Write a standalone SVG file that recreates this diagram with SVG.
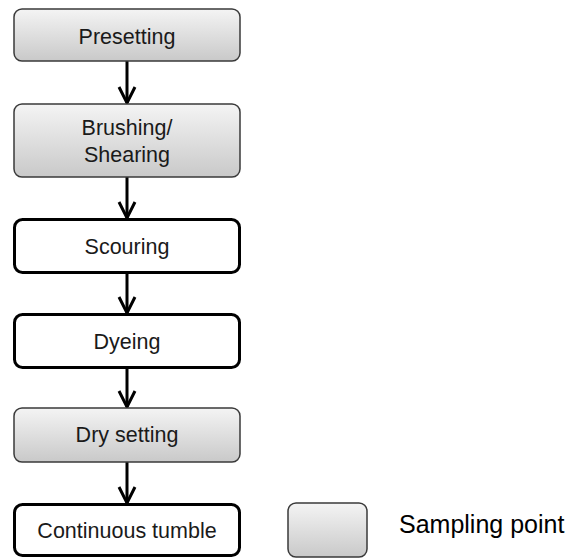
<svg xmlns="http://www.w3.org/2000/svg" width="575" height="558" viewBox="0 0 575 558">
  <defs>
    <linearGradient id="gray" x1="0" y1="0" x2="0" y2="1">
      <stop offset="0" stop-color="#f4f4f4"/>
      <stop offset="1" stop-color="#c9c9c9"/>
    </linearGradient>
    <marker id="arrow" markerUnits="userSpaceOnUse" markerWidth="24" markerHeight="24" viewBox="0 0 24 24" refX="19" refY="12" orient="auto" overflow="visible">
      <path d="M3,4 L19,12 L3,20" fill="none" stroke="#000" stroke-width="3" stroke-linejoin="miter"/>
    </marker>
  </defs>
  <style>
    .sample { fill: url(#gray); stroke: #3a3a3a; stroke-width: 1.5; }
    .plain { fill: #ffffff; stroke: #000000; stroke-width: 3; }
    .label { font-family: "Liberation Sans", Arial, sans-serif; font-size: 21.5px; fill: #1a1a1a; text-anchor: middle; }
    .legend { font-family: "Liberation Sans", Arial, sans-serif; font-size: 25px; fill: #000; }
    .conn { stroke: #000; stroke-width: 3; fill: none; marker-end: url(#arrow); }
  </style>
  <rect width="575" height="558" fill="#ffffff"/>

  <g id="connectors">
    <line class="conn" x1="127" y1="61" x2="127" y2="103"/>
    <line class="conn" x1="127" y1="177" x2="127" y2="218"/>
    <line class="conn" x1="127" y1="274" x2="127" y2="313"/>
    <line class="conn" x1="127" y1="368" x2="127" y2="407"/>
    <line class="conn" x1="127" y1="462" x2="127" y2="503"/>
  </g>

  <g id="presetting">
    <rect class="sample" x="14" y="9" width="226" height="52" rx="8"/>
    <text class="label" x="127" y="44">Presetting</text>
  </g>
  <g id="brushing">
    <rect class="sample" x="14" y="104" width="226" height="73" rx="8"/>
    <text class="label" x="127" y="135">Brushing/</text>
    <text class="label" x="127" y="162">Shearing</text>
  </g>
  <g id="scouring">
    <rect class="plain" x="14.5" y="219.5" width="225" height="53" rx="8"/>
    <text class="label" x="127" y="254">Scouring</text>
  </g>
  <g id="dyeing">
    <rect class="plain" x="14.5" y="314.5" width="225" height="53" rx="8"/>
    <text class="label" x="127" y="349">Dyeing</text>
  </g>
  <g id="dry-setting">
    <rect class="sample" x="14" y="408" width="226" height="54" rx="8"/>
    <text class="label" x="127" y="442">Dry setting</text>
  </g>
  <g id="continuous-tumble">
    <rect class="plain" x="14.5" y="504.5" width="225" height="51" rx="8"/>
    <text class="label" x="127" y="538">Continuous tumble</text>
  </g>
  <g id="legend">
    <rect class="sample" x="288" y="503" width="79" height="54" rx="8"/>
    <text class="legend" x="399" y="533">Sampling point</text>
  </g>
</svg>
